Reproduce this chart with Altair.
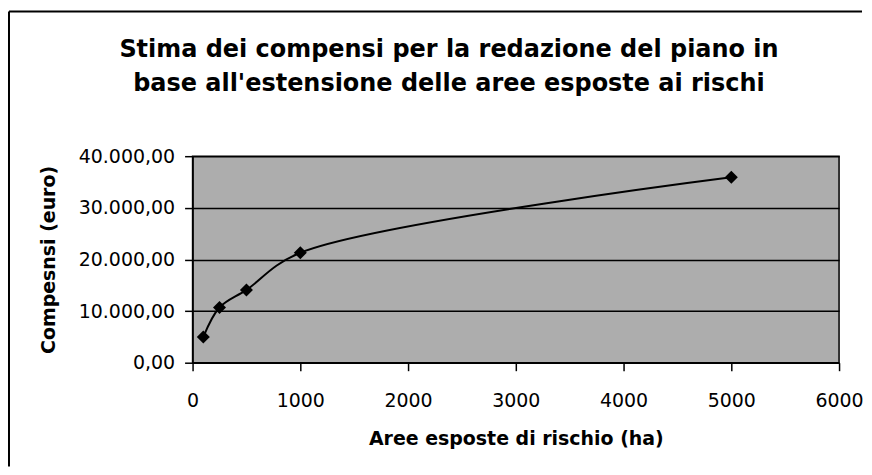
import altair as alt
import pandas as pd

# Data
area_ha = [100, 250, 500, 1000, 5000]
compensi_euro = [5000, 10700, 14100, 21300, 35900]
x_ticks = [0, 1000, 2000, 3000, 4000, 5000, 6000]
y_ticks = [0, 10000, 20000, 30000, 40000]
title_lines = ["Stima dei compensi per la redazione del piano in",
               "base all'estensione delle aree esposte ai rischi"]

df = pd.DataFrame({"area": area_ha, "compensi": compensi_euro})

FONT = "DejaVu Sans"

label_expr = ("replace(replace(replace(format(datum.value, ',.2f'), ',', '_'), '.', ','), '_', '.')")

x_enc = alt.X(
    "area:Q",
    scale=alt.Scale(domain=[0, 6000], nice=False, zero=True),
    axis=alt.Axis(
        values=x_ticks, grid=False, title="Aree esposte di rischio (ha)", format="d",
        labelFont=FONT, labelFontSize=19, labelColor="black", labelPadding=21,
        titleFont=FONT, titleFontSize=19, titleFontWeight="bold", titleColor="black",
        titlePadding=19, domainColor="black", domainWidth=1.5, tickColor="black",
        tickSize=8, tickWidth=1.5, labelFlush=False,
    ),
)
y_enc = alt.Y(
    "compensi:Q",
    scale=alt.Scale(domain=[0, 40000], nice=False),
    axis=alt.Axis(
        values=y_ticks, grid=True, gridColor="black", gridWidth=1.5, gridOpacity=1,
        title="Compesnsi (euro)", labelExpr=label_expr,
        labelFont=FONT, labelFontSize=19, labelColor="black", labelPadding=10,
        titleFont=FONT, titleFontSize=19, titleFontWeight="bold", titleColor="black",
        titlePadding=20, domainColor="black", domainWidth=1.5, tickColor="black",
        tickSize=8, tickWidth=1.5,
    ),
)

line = alt.Chart(df).mark_line(
    interpolate="catmull-rom", color="black", strokeWidth=2
).encode(x=x_enc, y=y_enc)

points = alt.Chart(df).mark_point(
    shape="diamond", filled=True, color="black", size=170, opacity=1
).encode(x=x_enc, y=y_enc)

frame_df = pd.DataFrame({"k": [0]})
frame_left = alt.Chart(frame_df).mark_rule(color="black", strokeWidth=2).encode(
    x=alt.value(-184), y=alt.value(-145), y2=alt.value(311)
)
frame_top = alt.Chart(frame_df).mark_rule(color="black", strokeWidth=2).encode(
    x=alt.value(-184), x2=alt.value(671), y=alt.value(-145)
)

title1 = alt.Chart(frame_df).mark_text(
    text=title_lines[0], font=FONT, fontSize=24, fontWeight="bold", color="black",
    align="center", baseline="middle"
).encode(x=alt.value(257), y=alt.value(-106))
title2 = alt.Chart(frame_df).mark_text(
    text=title_lines[1], font=FONT, fontSize=24, fontWeight="bold", color="black",
    align="center", baseline="middle"
).encode(x=alt.value(257), y=alt.value(-72))

chart = alt.layer(line, points, frame_left, frame_top, title1, title2).properties(
    width=648,
    height=207,
    padding={"left": 0, "top": 2, "right": 0, "bottom": 0},
    background="white",
).configure_view(
    fill="#adadad", stroke="black", strokeWidth=1.5
)

chart.save("out.html", embed_options={"renderer": "svg", "actions": False})
